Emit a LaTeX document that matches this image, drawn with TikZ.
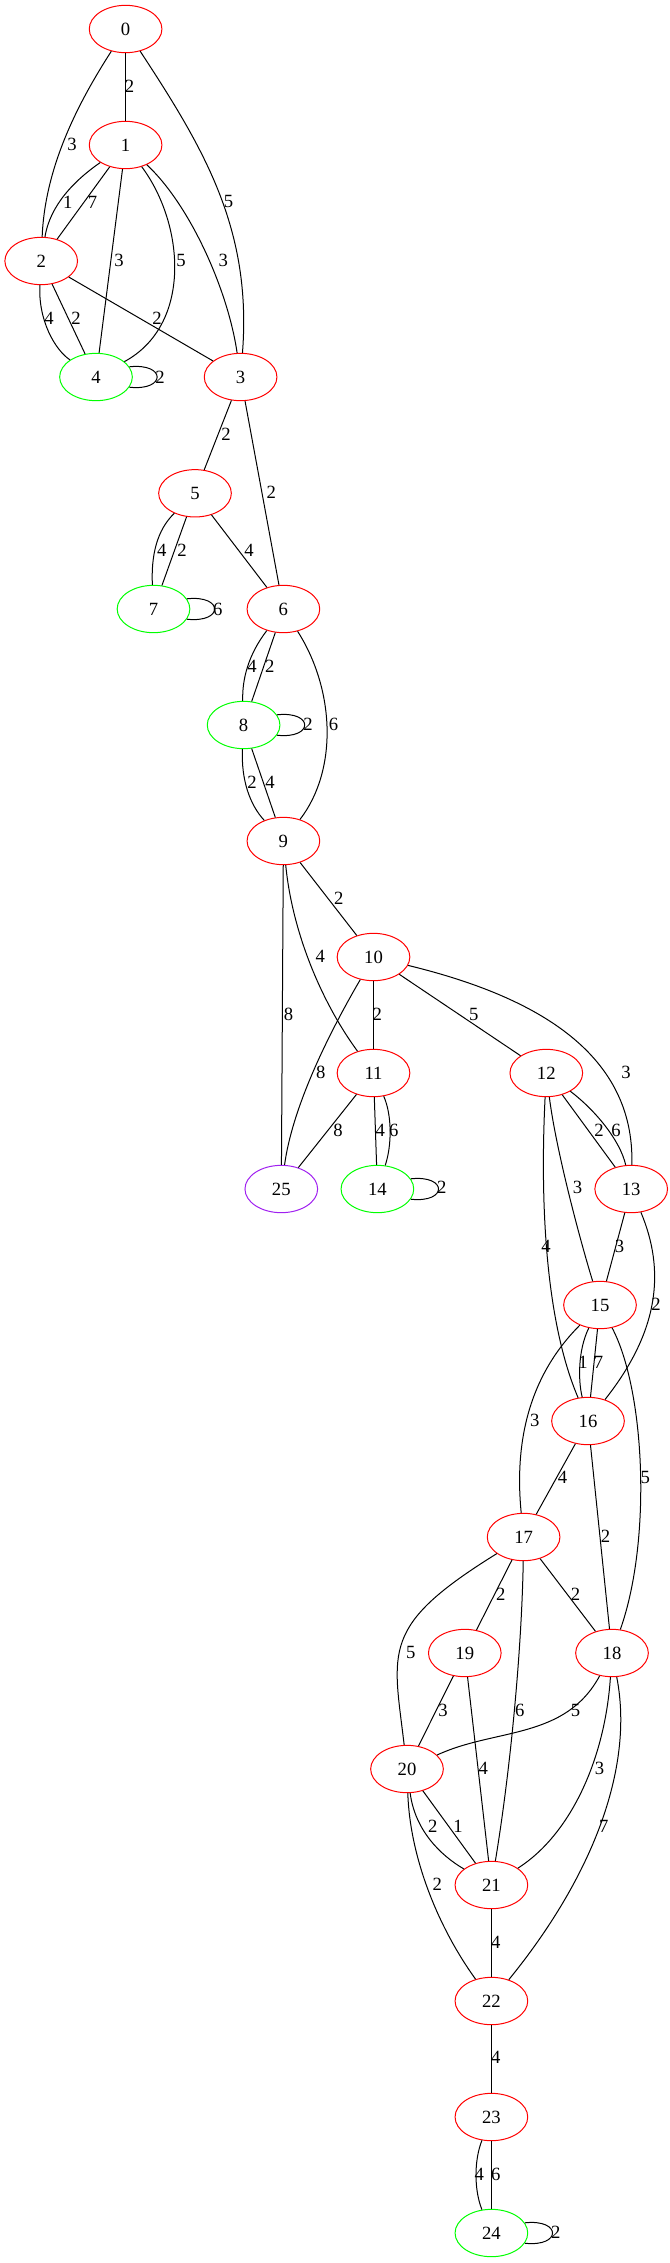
\documentclass[tikz,border=0pt]{standalone}
\usepackage{fontspec}
\setmainfont{Liberation Serif}
\usetikzlibrary{shapes.geometric}
\definecolor{gvred}{RGB}{255,0,0}
\definecolor{gvgreen}{RGB}{0,255,0}
\definecolor{gvpurple}{RGB}{160,32,240}
\begin{document}
\begin{tikzpicture}[x=0.75pt,y=-0.75pt,
  font=\fontsize{14}{16}\selectfont,
  vertex/.style={ellipse, draw, line width=0.75pt, minimum width=54.5pt, minimum height=35.5pt, inner sep=0pt},
  rv/.style={vertex, draw=gvred},
  gv/.style={vertex, draw=gvgreen},
  pv/.style={vertex, draw=gvpurple},
  lab/.style={inner sep=0pt},
  edge/.style={line width=0.75pt, black}]
\useasboundingbox (0,0) rectangle (669,2263);

% vertices
\node[rv] (n0) at (125.6,29) {0};
\node[rv] (n1) at (125.6,145) {1};
\node[rv] (n2) at (41.2,261) {2};
\node[gv] (n4) at (96,377) {4};
\node[rv] (n3) at (240.6,377) {3};
\node[rv] (n5) at (195,493.3) {5};
\node[gv] (n7) at (153.5,609) {7};
\node[rv] (n6) at (283.4,609) {6};
\node[gv] (n8) at (243.6,725) {8};
\node[rv] (n9) at (283.4,841) {9};
\node[rv] (n10) at (373.5,957) {10};
\node[rv] (n11) at (373.5,1073) {11};
\node[rv] (n12) at (546.3,1073) {12};
\node[pv] (n25) at (281.3,1189) {25};
\node[gv] (n14) at (377.4,1189) {14};
\node[rv] (n13) at (631.2,1189) {13};
\node[rv] (n15) at (600,1305) {15};
\node[rv] (n16) at (588,1421) {16};
\node[rv] (n17) at (523.6,1537) {17};
\node[rv] (n19) at (464.8,1653) {19};
\node[rv] (n18) at (612,1653) {18};
\node[rv] (n20) at (407,1769) {20};
\node[rv] (n21) at (491.4,1885) {21};
\node[rv] (n22) at (491.4,2001) {22};
\node[rv] (n23) at (491.4,2117) {23};
\node[gv] (n24) at (491.4,2233) {24};

% edges
\draw[edge] (n0) -- (n1);
\draw[edge] (n0) .. controls (80,100) and (45,165) .. (n2);
\draw[edge] (n0) .. controls (205,150) and (252,230) .. (n3);
\draw[edge] (n1) .. controls (75,180) and (50,205) .. (n2);
\draw[edge] (n1) -- (n2);
\draw[edge] (n1) -- (n4);
\draw[edge] (n1) .. controls (185,225) and (192,325) .. (n4);
\draw[edge] (n1) .. controls (190,205) and (228,290) .. (n3);
\draw[edge] (n2) .. controls (38,320) and (55,350) .. (n4);
\draw[edge] (n2) -- (n4);
\draw[edge] (n2) -- (n3);
\draw[edge] (n4.17) .. controls +(37,-4) and +(37,4) .. (n4.-17);
\draw[edge] (n3) -- (n5);
\draw[edge] (n3) -- (n6);
\draw[edge] (n5) .. controls (157,530) and (151,555) .. (n7);
\draw[edge] (n5) -- (n7);
\draw[edge] (n5) -- (n6);
\draw[edge] (n7.17) .. controls +(37,-4) and +(37,4) .. (n7.-17);
\draw[edge] (n6) .. controls (248,655) and (242,680) .. (n8);
\draw[edge] (n6) -- (n8);
\draw[edge] (n6) .. controls (335,690) and (338,770) .. (n9);
\draw[edge] (n8.17) .. controls +(37,-4) and +(37,4) .. (n8.-17);
\draw[edge] (n8) .. controls (241,780) and (250,805) .. (n9);
\draw[edge] (n8) -- (n9);
\draw[edge] (n9) -- (n10);
\draw[edge] (n9) .. controls (292,930) and (320,1000) .. (n11);
\draw[edge] (n9) -- (n25);
\draw[edge] (n10) .. controls (325,1040) and (292,1110) .. (n25);
\draw[edge] (n10) -- (n11);
\draw[edge] (n10) -- (n12);
\draw[edge] (n10) .. controls (530,995) and (635,1050) .. (n13);
\draw[edge] (n11) -- (n25);
\draw[edge] (n11) -- (n14);
\draw[edge] (n11) .. controls (392,1115) and (392,1145) .. (n14);
\draw[edge] (n14.17) .. controls +(37,-4) and +(37,4) .. (n14.-17);
\draw[edge] (n12) -- (n13);
\draw[edge] (n12) .. controls (595,1110) and (620,1140) .. (n13);
\draw[edge] (n12) .. controls (556,1150) and (580,1240) .. (n15);
\draw[edge] (n12) .. controls (540,1200) and (545,1320) .. (n16);
\draw[edge] (n13) -- (n15);
\draw[edge] (n13) .. controls (665,1270) and (660,1330) .. (n16);
\draw[edge] (n15) .. controls (578,1350) and (578,1380) .. (n16);
\draw[edge] (n15) -- (n16);
\draw[edge] (n15) .. controls (530,1375) and (514,1440) .. (n17);
\draw[edge] (n15) .. controls (645,1390) and (652,1540) .. (n18);
\draw[edge] (n16) -- (n17);
\draw[edge] (n16) -- (n18);
\draw[edge] (n17) -- (n19);
\draw[edge] (n17) -- (n18);
\draw[edge] (n17) .. controls (380,1626) and (393,1650) .. (n20);
\draw[edge] (n17) .. controls (522,1640) and (512,1760) .. (n21);
\draw[edge] (n19) -- (n20);
\draw[edge] (n19) -- (n21);
\draw[edge] (n18) .. controls (565,1740) and (495,1728) .. (n20);
\draw[edge] (n18) .. controls (605,1760) and (570,1835) .. (n21);
\draw[edge] (n18) .. controls (635,1770) and (590,1880) .. (n22);
\draw[edge] (n20) .. controls (415,1830) and (440,1855) .. (n21);
\draw[edge] (n20) -- (n21);
\draw[edge] (n20) .. controls (410,1860) and (440,1930) .. (n22);
\draw[edge] (n21) -- (n22);
\draw[edge] (n22) -- (n23);
\draw[edge] (n23) .. controls (474,2160) and (474,2190) .. (n24);
\draw[edge] (n23) -- (n24);
\draw[edge] (n24.17) .. controls +(37,-4) and +(37,4) .. (n24.-17);

% edge labels
\node[lab] (l0a) at (129.5,86.7) {2};
\node[lab] (l0b) at (72,144) {3};
\node[lab] (l0c) at (228.6,201.7) {5};
\node[lab] (l1a) at (67.8,202) {1};
\node[lab] (l1b) at (92.6,202) {7};
\node[lab] (l1c) at (119,260) {3};
\node[lab] (l1d) at (181,260) {5};
\node[lab] (l1e) at (223.4,260) {3};
\node[lab] (l2a) at (49,318) {4};
\node[lab] (l2b) at (76,318) {2};
\node[lab] (l2c) at (157,318) {2};
\node[lab] (l4a) at (160,377) {2};
\node[lab] (l3a) at (226,434) {2};
\node[lab] (l3b) at (271.4,492.3) {2};
\node[lab] (l5a) at (161.7,550.7) {4};
\node[lab] (l5b) at (182,550.7) {2};
\node[lab] (l5c) at (249,550.7) {4};
\node[lab] (l7a) at (217.8,609) {6};
\node[lab] (l6a) at (252,666.7) {4};
\node[lab] (l6b) at (269.7,666.7) {2};
\node[lab] (l6c) at (333.6,724) {6};
\node[lab] (l8a) at (308,724) {2};
\node[lab] (l8b) at (252,782.3) {2};
\node[lab] (l8c) at (270,782.3) {4};
\node[lab] (l9a) at (338.8,898.3) {2};
\node[lab] (l9b) at (320.3,956) {4};
\node[lab] (l9c) at (288.6,1014.3) {8};
\node[lab] (l10a) at (320.8,1072.7) {8};
\node[lab] (l10b) at (377.4,1014.3) {2};
\node[lab] (l10c) at (473.8,1014.3) {5};
\node[lab] (l10d) at (626,1072.7) {3};
\node[lab] (l11a) at (338,1130) {8};
\node[lab] (l11b) at (380.4,1130) {4};
\node[lab] (l11c) at (393.7,1130) {6};
\node[lab] (l14a) at (441.7,1187.7) {2};
\node[lab] (l12a) at (599,1130) {2};
\node[lab] (l12b) at (616,1130) {6};
\node[lab] (l12c) at (577.6,1187.7) {3};
\node[lab] (l12d) at (546,1246) {4};
\node[lab] (l13a) at (619.6,1246) {3};
\node[lab] (l13b) at (656,1304.3) {2};
\node[lab] (l15a) at (583,1362.7) {1};
\node[lab] (l15b) at (598.6,1362.7) {7};
\node[lab] (l15c) at (534.7,1420) {3};
\node[lab] (l15d) at (645.4,1477.3) {5};
\node[lab] (l16a) at (562.6,1477.3) {4};
\node[lab] (l16b) at (605.5,1536) {2};
\node[lab] (l17a) at (500.9,1594.3) {2};
\node[lab] (l17b) at (575.5,1594.3) {2};
\node[lab] (l17c) at (410.8,1652.3) {5};
\node[lab] (l17d) at (519.7,1710) {6};
\node[lab] (l19a) at (443,1710) {3};
\node[lab] (l19b) at (483.3,1768.3) {4};
\node[lab] (l18a) at (575.5,1710) {5};
\node[lab] (l18b) at (599.5,1768.3) {3};
\node[lab] (l18c) at (603.8,1826.7) {7};
\node[lab] (l20a) at (432.7,1826.7) {2};
\node[lab] (l20b) at (458,1826.7) {1};
\node[lab] (l20c) at (437.4,1884.3) {2};
\node[lab] (l21a) at (495.7,1942.3) {4};
\node[lab] (l22a) at (495.7,2057.3) {4};
\node[lab] (l23a) at (479.4,2174.3) {4};
\node[lab] (l23b) at (495.7,2174.3) {6};
\node[lab] (l24a) at (555.7,2232.3) {2};
\end{tikzpicture}
\end{document}
